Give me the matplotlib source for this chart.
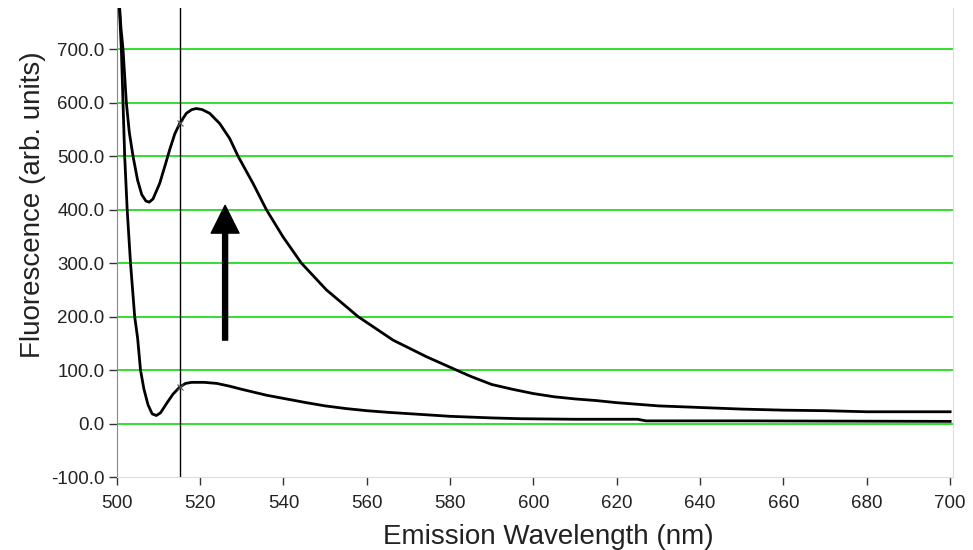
import matplotlib
matplotlib.use("Agg")
import matplotlib.pyplot as plt

plt.rcParams['font.family'] = ['Liberation Sans', 'DejaVu Sans']

# Upper (after addition) spectrum
upper_wl = [500.5, 501.0, 501.5, 502.3, 503.0, 503.9, 505.0, 506.0, 507.0, 507.8, 508.7,
            510.3, 511.5, 512.7, 513.9, 515.1, 516.7, 518.0, 519.1, 520.5, 522.3, 524.7,
            527.1, 529.1, 532.7, 535.9, 539.9, 544.3, 550.3, 557.9, 566.3, 574.3, 581.5,
            585.0, 590.0, 595.0, 600.0, 605.0, 610.0, 615.0, 620.0, 630.0, 640.0, 650.0,
            660.0, 670.0, 680.0, 690.0, 700.0]
upper_val = [800, 740, 700, 600, 545, 500, 455, 428, 416, 414, 420,
             449, 480, 512, 541, 561, 580, 587, 589, 587, 580, 561,
             533, 500, 449, 400, 349, 300, 250, 200, 156, 125, 100,
             88, 73, 64, 56, 50, 46, 43, 39, 33, 30, 27,
             25, 24, 22, 22, 22]

# Lower (initial) spectrum
lower_wl = [500.5, 501.1, 501.5, 501.9, 502.5, 503.3, 504.3, 505.0, 505.7, 506.5, 507.5,
            508.5, 509.5, 510.5, 512.0, 513.5, 515.1, 516.5, 518.0, 521.0, 524.0, 527.0,
            530.0, 535.9, 540.0, 545.5, 550.0, 555.0, 560.0, 565.0, 570.0, 575.0, 580.0,
            585.0, 590.0, 597.0, 610.0, 625.0, 627.0, 650.0, 700.0]
lower_val = [800, 700, 600, 500, 400, 300, 200, 160, 100, 65, 35,
             18, 15, 20, 38, 55, 68, 75, 77, 77, 75, 70,
             64, 53, 47, 39, 33, 28, 24, 21, 18.5, 16, 13.5,
             12, 10.5, 9, 8, 8, 5, 5, 4]

marker_wl = 515.1
marker_vals = [561, 68]
y_ticks = [-100, 0, 100, 200, 300, 400, 500, 600, 700]
grid_vals = [0, 100, 200, 300, 400, 500, 600, 700]
x_ticks = [500, 520, 540, 560, 580, 600, 620, 640, 660, 680, 700]
arrow_x = 526.0
arrow_from = 156
arrow_to = 408

fig = plt.figure(figsize=(9.73, 5.5), dpi=100)
ax = fig.add_axes([0.12, 0.1327, 0.8595, 0.8528])

for g in grid_vals:
    ax.axhline(g, color='#33dd33', lw=1.4, zorder=1)
ax.axvline(marker_wl, color='black', lw=1.0, zorder=2)

ax.plot(upper_wl, upper_val, color='black', lw=2.0, zorder=3)
ax.plot(lower_wl, lower_val, color='black', lw=2.0, zorder=3)
ax.plot([marker_wl] * len(marker_vals), marker_vals, ls='none', marker='x',
        color='#555555', ms=4, mew=0.8, zorder=4)

ax.annotate('', xy=(arrow_x, arrow_to), xytext=(arrow_x, arrow_from),
            arrowprops=dict(width=3.6, headwidth=20, headlength=20, color='black',
                            shrink=0), zorder=5)

ax.set_xlim(500, 700.7)
ax.set_ylim(-100, 777)
ax.set_yticks(y_ticks)
ax.set_yticklabels([f"{v:.1f}" for v in y_ticks])
ax.set_xticks(x_ticks)
ax.set_xticklabels([str(v) for v in x_ticks])
ax.tick_params(axis='both', labelsize=13.5, length=6, width=1, color='#333333', labelcolor='#222222')
ax.tick_params(axis='x', pad=7)
ax.tick_params(axis='y', pad=3)

ax.spines['top'].set_visible(False)
ax.spines['left'].set_color('#888888')
ax.spines['bottom'].set_color('#dddddd')
ax.spines['right'].set_color('#dddddd')

ax.set_xlabel('Emission Wavelength (nm)', fontsize=20, color='#222222')
ax.set_ylabel('Fluorescence (arb. units)', fontsize=20, color='#222222')
ax.xaxis.set_label_coords(0.516, -0.1)
ax.yaxis.set_label_coords(-0.085, 0.58)

fig.savefig('out.png', dpi=100)
